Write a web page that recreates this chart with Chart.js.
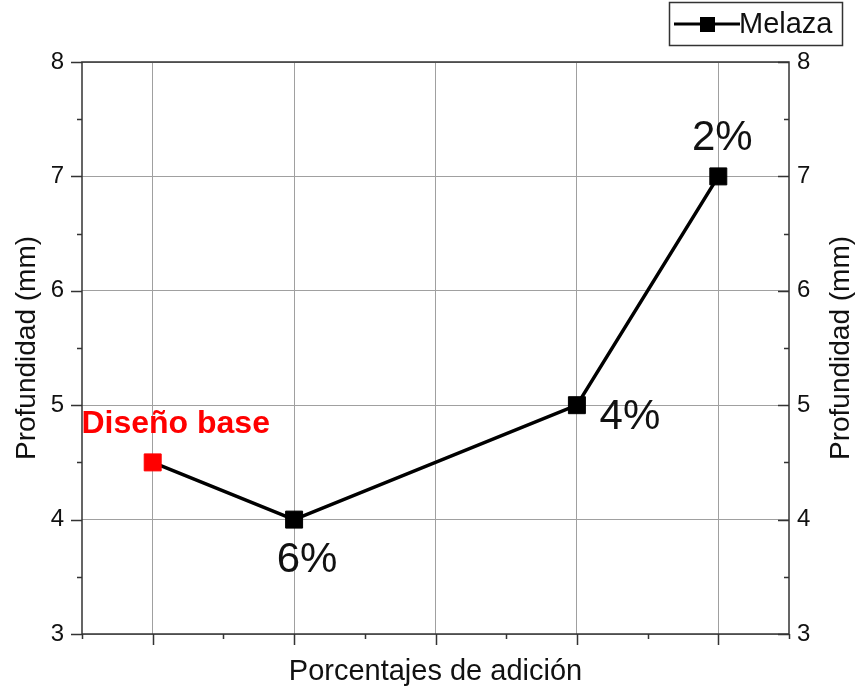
<!DOCTYPE html>
<html>
<head>
<meta charset="utf-8">
<script src="https://cdn.jsdelivr.net/npm/chart.js@4/dist/chart.umd.min.js"></script>
<style>
  body { margin: 0; background: #fff; }
  #box { width: 857px; height: 696px; }
</style>
</head>
<body>
<div id="box"><canvas id="myChart" width="857" height="696"></canvas></div>
<script>
// values
const xPositions = [1, 2, 4, 5];
const depth = [4.5, 4, 5, 7];
const pointLabels = ['Diseño base', '6%', '4%', '2%'];
const pointColors = ['#ff0000', '#000000', '#000000', '#000000'];
const xTicks = [1, 2, 3, 4, 5];
const yTicks = [3, 4, 5, 6, 7, 8];
const seriesName = 'Melaza';
const yTitle = 'Profundidad (mm)';
const xTitle = 'Porcentajes de adición';

const FONT = 'Arial, "Liberation Sans", sans-serif';
const gridColor = '#a0a0a0';
const axisColor = '#333333';

const setTicks = list => scale => { scale.ticks = list.map(v => ({ value: v })); };

// label offsets from each point (px)
const labelOffsets = [[23, -38], [13, 41], [53, 12], [4, -38]];

const decorations = {
  id: 'decorations',
  afterDraw(chart) {
    const ctx = chart.ctx;
    const a = chart.chartArea;
    const xs = chart.scales.x, ys = chart.scales.y;
    ctx.save();

    // frame
    ctx.strokeStyle = axisColor;
    ctx.lineWidth = 1.5;
    ctx.strokeRect(a.left, a.top, a.right - a.left, a.bottom - a.top);

    // ticks
    ctx.beginPath();
    for (let v = xs.min; v <= xs.max + 1e-6; v += 0.5) {
      const px = Math.round(xs.getPixelForValue(v)) + 0.5;
      const len = Number.isInteger(v) ? 11 : 5;
      ctx.moveTo(px, a.bottom);
      ctx.lineTo(px, a.bottom + len);
    }
    for (let v = ys.min; v <= ys.max + 1e-6; v += 0.5) {
      const py = Math.round(ys.getPixelForValue(v)) + 0.5;
      const len = Number.isInteger(v) ? 11 : 5;
      ctx.moveTo(a.left - len, py);
      ctx.lineTo(a.left, py);
      ctx.moveTo(a.right, py);
      ctx.lineTo(a.right - len, py);
    }
    ctx.stroke();

    // right axis title (reads bottom-up like the left one)
    ctx.fillStyle = '#111';
    ctx.font = '28px ' + FONT;
    ctx.textAlign = 'center';
    ctx.textBaseline = 'middle';
    ctx.translate(841, (a.top + a.bottom) / 2);
    ctx.rotate(-Math.PI / 2);
    ctx.fillText(yTitle, 0, 0);
    ctx.setTransform(1, 0, 0, 1, 0, 0);

    // point labels
    const meta = chart.getDatasetMeta(0);
    meta.data.forEach((pt, i) => {
      const off = labelOffsets[i];
      if (i === 0) {
        ctx.font = 'bold 32px ' + FONT;
        ctx.fillStyle = '#ff0000';
      } else {
        ctx.font = '42px ' + FONT;
        ctx.fillStyle = '#111';
      }
      ctx.fillText(pointLabels[i], pt.x + off[0], pt.y + off[1]);
    });

    // legend
    ctx.strokeStyle = axisColor;
    ctx.lineWidth = 1.5;
    ctx.strokeRect(669.5, 2.5, 173, 43);
    ctx.strokeStyle = '#000';
    ctx.lineWidth = 3;
    ctx.beginPath();
    ctx.moveTo(674, 24);
    ctx.lineTo(740, 24);
    ctx.stroke();
    ctx.fillStyle = '#000';
    ctx.fillRect(700, 17, 15, 15);
    ctx.font = '29px ' + FONT;
    ctx.fillStyle = '#111';
    ctx.textAlign = 'left';
    ctx.fillText(seriesName, 739, 25);

    ctx.restore();
  }
};

let data = {
  datasets: [{
    label: seriesName,
    data: xPositions.map((x, i) => ({ x: x, y: depth[i] })),
    borderColor: '#000',
    borderWidth: 3.5,
    pointStyle: 'rect',
    pointRadius: 12,
    pointBorderWidth: 1,
    pointBackgroundColor: pointColors,
    pointBorderColor: pointColors,
    tension: 0
  }]
};

let config = {
  type: 'line',
  data: data,
  options: {
    responsive: false,
    animation: false,
    layout: { padding: { top: 62, left: 0, right: 0, bottom: 0 } },
    plugins: { legend: { display: false }, tooltip: { enabled: false } },
    scales: {
      x: {
        type: 'linear',
        min: 0.5,
        max: 5.5,
        afterBuildTicks: setTicks(xTicks),
        afterFit: s => { s.height = 62; },
        grid: { color: gridColor, lineWidth: 1, drawTicks: false },
        border: { display: false },
        ticks: { display: false },
        title: {
          display: true,
          text: xTitle,
          color: '#111',
          font: { family: FONT, size: 29 },
          padding: { top: 0, bottom: 7 }
        }
      },
      y: {
        type: 'linear',
        position: 'left',
        min: 3,
        max: 8,
        afterBuildTicks: setTicks(yTicks),
        afterFit: s => { s.width = 82; },
        grid: { color: gridColor, lineWidth: 1, drawTicks: false },
        border: { display: false },
        ticks: { color: '#111', font: { family: FONT, size: 24 }, padding: 18 },
        title: {
          display: true,
          text: yTitle,
          color: '#111',
          font: { family: FONT, size: 28 },
          padding: { top: 10, bottom: 0 }
        }
      },
      y2: {
        type: 'linear',
        position: 'right',
        min: 3,
        max: 8,
        afterBuildTicks: setTicks(yTicks),
        afterFit: s => { s.width = 68; },
        grid: { drawOnChartArea: false, drawTicks: false },
        border: { display: false },
        ticks: { color: '#111', font: { family: FONT, size: 24 }, padding: 8 }
      }
    }
  },
  plugins: [decorations]
};

let myChart = new Chart(document.getElementById('myChart'), config);
</script>
</body>
</html>
